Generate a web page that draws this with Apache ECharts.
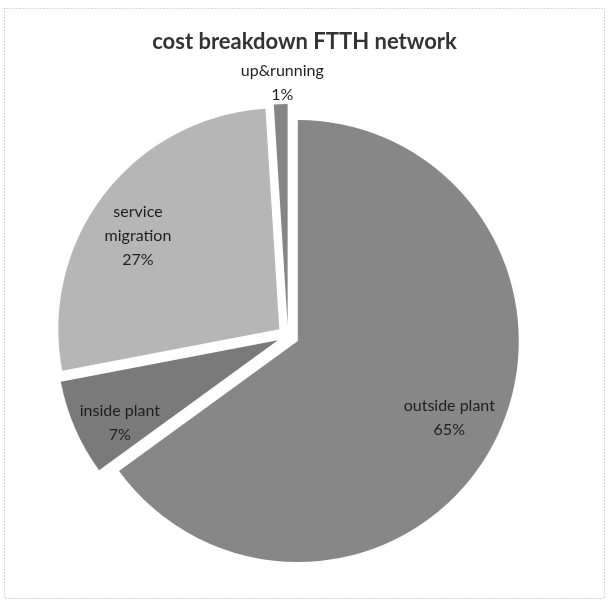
<!DOCTYPE html>
<html><head><meta charset="utf-8">
<script src="https://cdn.jsdelivr.net/npm/echarts@6/dist/echarts.min.js"></script>
<style>html,body{margin:0;padding:0;background:#fff}#c{width:609px;height:604px}</style>
</head><body><div id="c"></div>
<script>
const titleText = 'cost breakdown FTTH network';
const categories = ['outside plant', 'inside plant', 'service migration', 'up&running'];
const shares = [65, 7, 27, 1];
const labelLines = ['outside plant', 'inside plant', 'service\nmigration', 'up&running'];

const sliceColors = ['#878787', '#7a7a7a', '#b6b6b6', '#858585'];
const labelNudge = [[0, 0], [-2, 15], [-7, 11], [0, -72]];

const chart = echarts.init(document.getElementById('c'), null, {renderer: 'canvas'});
const pieCenter = [288, 336];

const mainData = categories.map((n, i) => ({
  name: n, value: shares[i], selected: true,
  itemStyle: {color: sliceColors[i]}
}));
const labelData = categories.map((n, i) => ({
  name: n, value: shares[i], selected: true,
  itemStyle: {color: 'rgba(0,0,0,0)'}
}));

chart.setOption({
  backgroundColor: '#ffffff',
  animation: false,
  title: {
    text: titleText, left: 'center', top: 26,
    textStyle: {fontFamily: 'Lato', fontWeight: 'bold', fontSize: 22, color: '#333333'}
  },
  graphic: [{
    type: 'rect', shape: {x: 4.5, y: 8.5, width: 600, height: 590},
    style: {fill: 'none', stroke: '#b0b0b0', lineWidth: 1, lineDash: [1, 2]}, silent: true
  }],
  series: [{
    type: 'pie', center: pieCenter, radius: 221, startAngle: 90, clockwise: true,
    selectedMode: 'multiple', selectedOffset: 11, avoidLabelOverlap: false,
    label: {show: false}, labelLine: {show: false},
    emphasis: {disabled: true}, silent: true,
    itemStyle: {borderWidth: 0},
    data: mainData
  }, {
    type: 'pie', center: pieCenter, radius: [0, 334], startAngle: 90, clockwise: true,
    selectedMode: 'multiple', selectedOffset: 11, avoidLabelOverlap: false,
    emphasis: {disabled: true}, silent: true, z: 5,
    labelLine: {show: false},
    label: {
      show: true, position: 'inside', fontFamily: 'Lato', fontSize: 16, lineHeight: 24,
      color: '#1e1e1e', align: 'center',
      formatter: p => labelLines[p.dataIndex] + '\n' + p.value + '%'
    },
    labelLayout: p => ({dx: labelNudge[p.dataIndex][0], dy: labelNudge[p.dataIndex][1]}),
    data: labelData
  }]
});
</script></body></html>
